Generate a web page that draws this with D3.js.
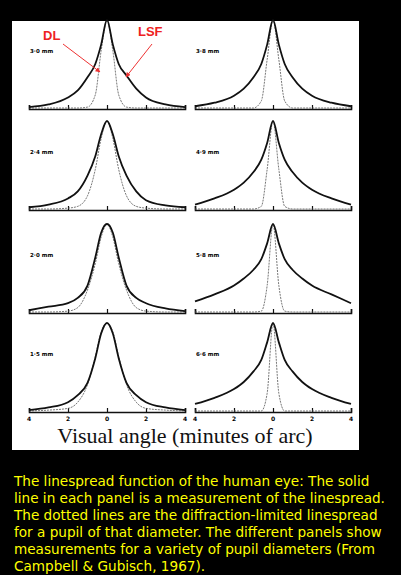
<!DOCTYPE html>
<html><head><meta charset="utf-8">
<script src="https://cdn.jsdelivr.net/npm/d3@7"></script>
<style>body{margin:0;background:#000;}svg{display:block;}</style>
</head><body>
<svg id="chart" width="401" height="575"></svg>
<script>
// x positions (minutes of arc) shared by every curve
var xs = [-4,-3,-2,-1.5,-1,-0.6,-0.3,0,0.3,0.6,1,1.5,2,3,4];
var panelLabels = ["3·0 mm","3·8 mm","2·4 mm","4·9 mm","2·0 mm","5·8 mm","1·5 mm","6·6 mm"];
// measured linespread (solid), normalised to peak
var lsf = [
  [0.01,0.04,0.12,0.2,0.35,0.5,0.72,1,0.72,0.5,0.37,0.22,0.12,0.04,0.01],
  [0.02,0.06,0.14,0.22,0.35,0.5,0.72,1,0.72,0.5,0.35,0.22,0.14,0.06,0.02],
  [0.02,0.05,0.12,0.2,0.38,0.6,0.85,1,0.85,0.6,0.38,0.2,0.1,0.04,0.02],
  [0.05,0.12,0.22,0.3,0.42,0.56,0.75,1,0.75,0.56,0.42,0.3,0.22,0.12,0.05],
  [0.02,0.06,0.1,0.16,0.3,0.62,0.9,1,0.9,0.62,0.3,0.16,0.1,0.04,0.01],
  [0.12,0.2,0.3,0.38,0.48,0.6,0.78,1,0.78,0.6,0.48,0.38,0.3,0.2,0.1],
  [0.01,0.04,0.1,0.18,0.32,0.6,0.88,1,0.88,0.6,0.32,0.18,0.1,0.04,0.01],
  [0.08,0.15,0.25,0.33,0.45,0.58,0.78,1,0.78,0.58,0.45,0.33,0.25,0.15,0.08]
];
// diffraction-limited linespread (dotted)
var dl = [
  [0,0,0,0,0.01,0.15,0.65,1,0.65,0.15,0.01,0,0,0,0],
  [0,0,0,0,0,0.08,0.55,1,0.55,0.08,0,0,0,0,0],
  [0,0,0.01,0.03,0.15,0.45,0.8,1,0.8,0.45,0.15,0.03,0.01,0,0],
  [0,0,0,0,0,0.03,0.45,1,0.45,0.03,0,0,0,0,0],
  [0,0,0.01,0.05,0.25,0.55,0.85,1,0.85,0.55,0.25,0.05,0.01,0,0],
  [0,0,0,0,0,0.01,0.3,1,0.3,0.01,0,0,0,0,0],
  [0,0.01,0.03,0.1,0.3,0.62,0.9,1,0.9,0.62,0.3,0.1,0.03,0.01,0],
  [0,0,0,0,0,0,0.2,1,0.2,0,0,0,0,0,0]
];
var tickVals = [-4,-2,0,2,4];
var tickText = ["4","2","0","2","4"];
var caption = [
  "The linespread function of the human eye: The solid",
  "line in each panel is a measurement of the linespread.",
  "The dotted lines are the diffraction-limited linespread",
  "for a pupil of that diameter. The different panels show",
  "measurements for a variety of pupil diameters (From",
  "Campbell & Gubisch, 1967)."
];

var svg = d3.select("#chart");
svg.append("rect").attr("x",12).attr("y",21).attr("width",347).attr("height",429).attr("fill","#fff");

var colX = [[29,185],[195,351]];
var rowBase = [109,210,313,412];

lsf.forEach(function(vals, i){
  var col = i % 2, row = Math.floor(i / 2);
  var x = d3.scaleLinear().domain([-4,4]).range(colX[col]);
  var y = d3.scaleLinear().domain([0,1]).range([rowBase[row]-1, rowBase[row]-89]);
  var line = d3.line().x(function(d){return x(d[0]);}).y(function(d){return y(d[1]);}).curve(d3.curveMonotoneX);
  var g = svg.append("g");
  var ax = g.append("g").attr("transform","translate(0,"+rowBase[row]+")")
    .call(d3.axisBottom(x).tickValues(tickVals).tickSize(-4).tickFormat(""));
  ax.select(".domain").attr("stroke","#111").attr("stroke-width",1.6);
  ax.selectAll(".tick line").attr("stroke","#111").attr("stroke-width",1.2);
  g.append("path").datum(xs.map(function(v,k){return [v, dl[i][k]];}))
    .attr("d",line).attr("fill","none").attr("stroke","#555").attr("stroke-width",0.8).attr("stroke-dasharray","2,1");
  g.append("path").datum(xs.map(function(v,k){return [v, vals[k]];}))
    .attr("d",line).attr("fill","none").attr("stroke","#111").attr("stroke-width",1.8);
  g.append("text").attr("x",colX[col][0]+1).attr("y",rowBase[row]-56)
    .attr("font-family","DejaVu Sans").attr("font-size",5.5).attr("font-weight","bold").text(panelLabels[i]);
  if(row === 3){
    g.selectAll(".tl").data(tickVals).enter().append("text")
      .attr("x",function(d){return x(d);}).attr("y",421).attr("text-anchor","middle")
      .attr("font-family","DejaVu Sans").attr("font-size",6).attr("font-weight","bold")
      .text(function(d,k){return tickText[k];});
  }
});

svg.append("text").attr("x",185).attr("y",443).attr("text-anchor","middle")
  .attr("font-family","Liberation Serif").attr("font-size",22).attr("fill","#111")
  .text("Visual angle (minutes of arc)");

// annotations
svg.append("defs").append("marker").attr("id","ah").attr("viewBox","0 0 10 10").attr("refX",9).attr("refY",5)
  .attr("markerWidth",5).attr("markerHeight",5).attr("orient","auto")
  .append("path").attr("d","M0,0L10,5L0,10z").attr("fill","#e33");
svg.append("text").attr("x",43).attr("y",40).attr("fill","#e22").attr("font-family","Liberation Sans")
  .attr("font-weight","bold").attr("font-size",13).text("DL");
svg.append("text").attr("x",138).attr("y",36).attr("fill","#e22").attr("font-family","Liberation Sans")
  .attr("font-weight","bold").attr("font-size",13).text("LSF");
svg.append("line").attr("x1",63).attr("y1",44).attr("x2",100).attr("y2",72)
  .attr("stroke","#e33").attr("stroke-width",1).attr("marker-end","url(#ah)");
svg.append("line").attr("x1",152).attr("y1",44).attr("x2",126).attr("y2",77)
  .attr("stroke","#e33").attr("stroke-width",1).attr("marker-end","url(#ah)");

svg.selectAll(".cap").data(caption).enter().append("text")
  .attr("x",14).attr("y",function(d,i){return 486 + i*17;})
  .attr("fill","#ffff00").attr("font-family","DejaVu Sans").attr("font-size",13.6)
  .text(function(d){return d;});
</script>
</body></html>
